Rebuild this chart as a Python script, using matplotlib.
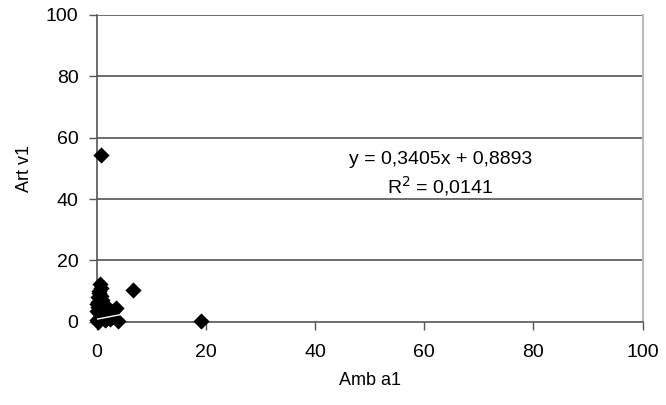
import numpy as np
import matplotlib.pyplot as plt

plt.rcParams["font.family"] = ["Liberation Sans", "DejaVu Sans"]

# values
amb_a1 = [0.7, 0.5, 0.3, 0.8, 1.0, 0.2, 1.5, 2.0, 3.0, 3.5, 0.5, 1.0, 2.5, 0.0, 0.3,
          4.0, 19.1, 6.7, 0.8, 0.1, 0.6, 1.2, 0.4, 2.2, 1.8, 2.8, 0.0, 1.5,
          0.9, 0.3, 1.3, 2.4, 0.6]
art_v1 = [12.5, 10.0, 8.0, 8.5, 7.0, 5.0, 5.0, 4.0, 3.5, 4.5, 3.0, 2.0, 1.0, 0.5, 0.0,
          0.2, 0.2, 10.4, 54.3, 6.0, 1.5, 3.0, 9.5, 2.5, 1.0, 1.5, 3.5, 0.5,
          11.0, 6.5, 6.0, 2.0, 4.0]
slope = 0.3405
intercept = 0.8893
eq_text = "y = 0,3405x + 0,8893"
r2_text = "R$^2$ = 0,0141"
ticks = [0, 20, 40, 60, 80, 100]

fig = plt.figure(figsize=(6.66, 4.05), dpi=100)
ax = fig.add_axes([0.1449, 0.205, 0.82, 0.759])

for t in ticks[1:]:
    ax.axhline(t, color="#555555", lw=1.2, zorder=1)

ax.scatter(amb_a1, art_v1, marker="D", s=68, color="black", zorder=3,
           linewidths=0, clip_on=False)

xs = np.array([min(amb_a1), max(amb_a1)])
ax.plot(xs, slope * xs + intercept, color="white", lw=1, zorder=4)

ax.set_xlim(0, 100)
ax.set_ylim(0, 100)
ax.set_xticks(ticks)
ax.set_yticks(ticks)
ax.tick_params(direction="out", length=6, width=1, colors="#555555",
               labelcolor="black", labelsize=14)
ax.tick_params(axis="y", pad=7)
ax.tick_params(axis="x", pad=10)

for s in ["left", "bottom"]:
    ax.spines[s].set_color("#555555")
    ax.spines[s].set_linewidth(1.2)
ax.spines["right"].set_color("#bbbbbb")
ax.spines["right"].set_linewidth(1.5)
ax.spines["top"].set_visible(False)

ax.set_xlabel("Amb a1", fontsize=13, labelpad=8)
ax.set_ylabel("Art v1", fontsize=13, labelpad=9)

ax.text(63, 53, eq_text, ha="center", va="center", fontsize=14)
ax.text(63, 44.2, r2_text, ha="center", va="center", fontsize=14)

fig.savefig("out.png", dpi=100)
